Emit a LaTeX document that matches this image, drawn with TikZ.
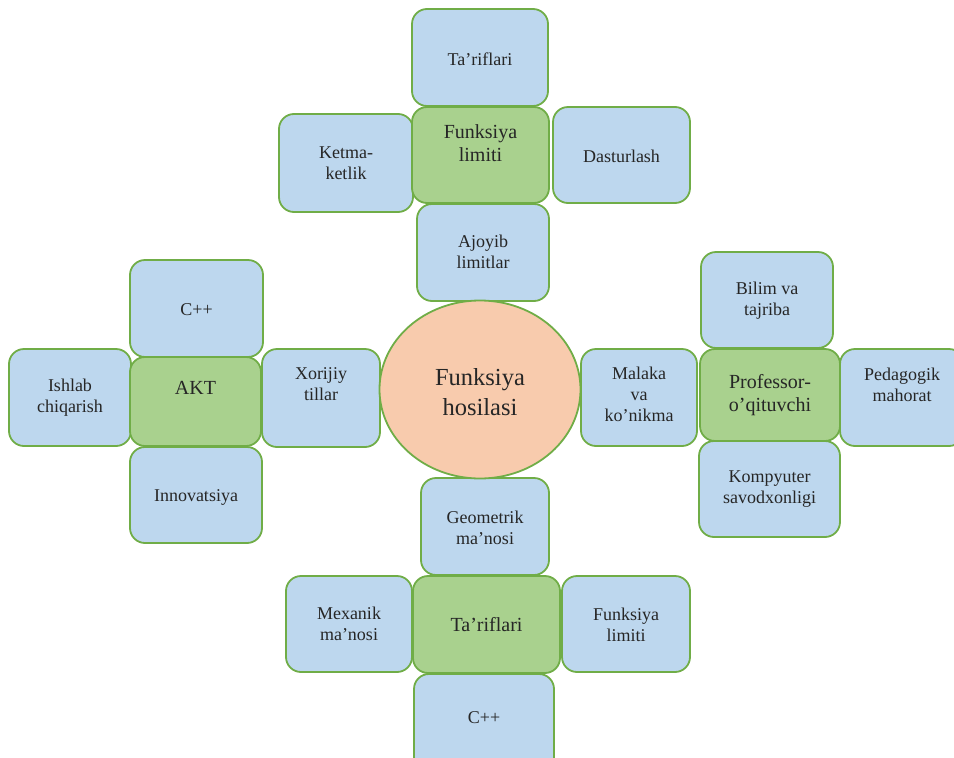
\documentclass[tikz,border=0pt]{standalone}
\usepackage{fontspec}
\setmainfont{Liberation Serif}
\usetikzlibrary{shapes.geometric}
\definecolor{bfill}{HTML}{BDD7EE}
\definecolor{gfill}{HTML}{A9D18E}
\definecolor{gline}{HTML}{70AD47}
\definecolor{ofill}{HTML}{F8CBAD}
\definecolor{tcol}{HTML}{262626}
\tikzset{
  bluebox/.style={draw=gline, fill=bfill, line width=1.8pt, rounded corners=15pt, inner sep=0pt},
  greenbox/.style={draw=gline, fill=gfill, line width=1.8pt, rounded corners=15pt, inner sep=0pt},
  btxt/.style={text=tcol, align=center, inner sep=0pt, font=\fontsize{18}{21}\selectfont},
  gtxt/.style={text=tcol, align=center, inner sep=0pt, font=\fontsize{20}{23}\selectfont},
  ctxt/.style={text=tcol, align=center, inner sep=0pt, font=\fontsize{24.5}{30}\selectfont},
  centerell/.style={ellipse, draw=gline, fill=ofill, line width=1.8pt, inner sep=0pt}
}
% name, box style, x1, y1, x2, y2, text y, text, text style
\newcommand\mybox[9]{%
  \node[#2, minimum width={#5pt-#3pt}, minimum height={#6pt-#4pt}] (#1) at ({(#3+#5)/2},{(#4+#6)/2}) {};
  \node[#9] (#1-t) at ({(#3+#5)/2},#7) {#8};
}
\begin{document}
\begin{tikzpicture}[x=1pt,y=-1pt]
\clip (0,0) rectangle (954,758);
% top cluster
\mybox{tA}{bluebox}{412}{9}{548}{106}{59}{Ta’riflari}{btxt}
\mybox{tL}{bluebox}{279}{114}{413}{212}{163}{Ketma-\\ketlik}{btxt}
\mybox{tR}{bluebox}{553}{107}{690}{203}{156}{Dasturlash}{btxt}
\mybox{tB}{bluebox}{417}{204}{549}{301}{252}{Ajoyib\\limitlar}{btxt}
\mybox{tG}{greenbox}{412}{107}{549}{203}{143}{Funksiya\\limiti}{gtxt}
% left cluster
\mybox{lA}{bluebox}{130}{260}{263}{357}{310}{C++}{btxt}
\mybox{lL}{bluebox}{9}{349}{131}{446}{397.5}{Ishlab\\chiqarish}{btxt}
\mybox{lR}{bluebox}{262}{349}{380}{447}{384.5}{Xorijiy\\tillar}{btxt}
\mybox{lB}{bluebox}{130}{447}{262}{543}{497}{Innovatsiya}{btxt}
\mybox{lG}{greenbox}{130}{357}{261}{446}{388}{AKT}{gtxt}
% right cluster
\mybox{rA}{bluebox}{701}{252}{833}{348}{301}{Bilim va\\tajriba}{btxt}
\mybox{rL}{bluebox}{581}{349}{697}{446}{394}{Malaka\\va\\ko’nikma}{btxt}
\mybox{rR}{bluebox}{840}{349}{964}{446}{385}{Pedagogik\\mahorat}{btxt}
\mybox{rB}{bluebox}{699}{441}{840}{537}{489.5}{Kompyuter\\savodxonligi}{btxt}
\mybox{rG}{greenbox}{700}{349}{840}{441}{395}{Professor-\\o’qituvchi}{gtxt}
% bottom cluster
\mybox{bA}{bluebox}{421}{478}{549}{575}{527.5}{Geometrik\\ma’nosi}{btxt}
\mybox{bL}{bluebox}{286}{576}{412}{672}{624}{Mexanik\\ma’nosi}{btxt}
\mybox{bR}{bluebox}{562}{576}{690}{672}{624.5}{Funksiya\\limiti}{btxt}
\mybox{bB}{bluebox}{414}{674}{554}{772}{718}{C++}{btxt}
\mybox{bG}{greenbox}{413}{576}{560}{673}{625}{Ta’riflari}{gtxt}
% center
\node[centerell, minimum width=201pt, minimum height=178pt] (c) at (480,389.5) {};
\node[ctxt] (c-t) at (480,392) {Funksiya\\hosilasi};
\end{tikzpicture}
\end{document}
